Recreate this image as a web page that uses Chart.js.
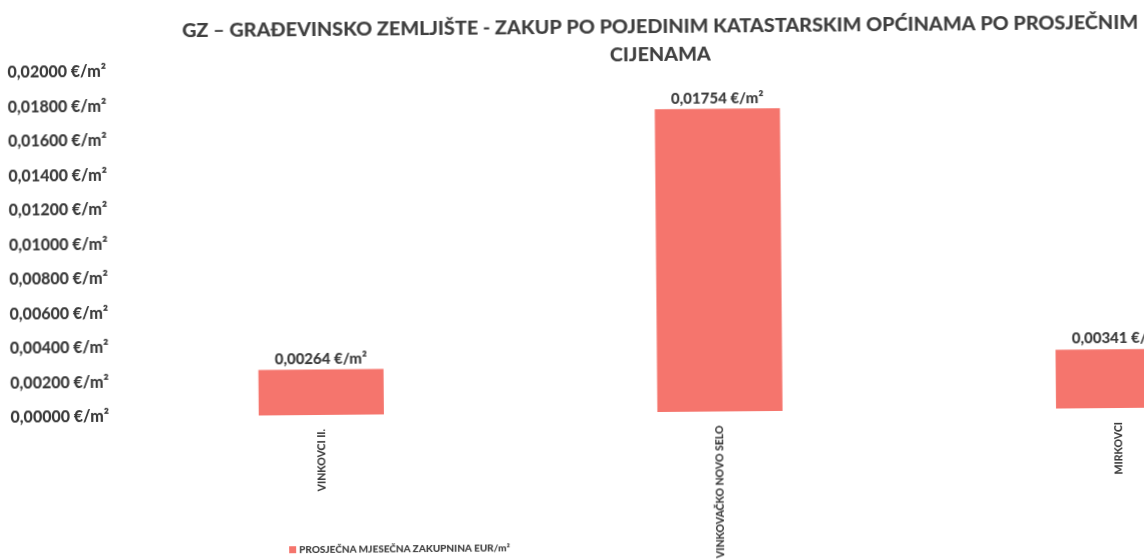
<!DOCTYPE html>
<html>
<head>
<meta charset="utf-8">
<script src="https://cdn.jsdelivr.net/npm/chart.js@4/dist/chart.umd.min.js"></script>
<style>
  html, body { margin:0; padding:0; background:#fff; overflow:hidden; }
  #wrap { position:relative; width:1320px; height:560px; transform: rotate(-0.5deg); transform-origin: 660px 300px; }
  #legend { position:absolute; left:287px; top:540px; font:900 10px Lato, "Open Sans", sans-serif; color:#3b3b3b; white-space:nowrap; display:flex; align-items:center; }
  #legend span.box { display:inline-block; width:7px; height:7px; margin-right:3px; }
</style>
</head>
<body>
<div id="wrap">
  <canvas id="c" width="1320" height="560"></canvas>
  <div id="legend"></div>
</div>
<script>
const titleLines = ["GZ – GRAĐEVINSKO ZEMLJIŠTE - ZAKUP PO POJEDINIM KATASTARSKIM OPĆINAMA PO PROSJEČNIM", "CIJENAMA"];
const categories = ["VINKOVCI II.", "VINKOVAČKO NOVO SELO", "MIRKOVCI"];
const seriesLabel = "PROSJEČNA MJESEČNA ZAKUPNINA EUR/m²";
const seriesValues = [0.00264, 0.01754, 0.00341];
const yMin = 0, yMax = 0.02, yStep = 0.002;

const barColor = "#F5756D";
const textColor = "#3b3b3b";
const fontFamily = "Lato, 'Open Sans', sans-serif";

function fmt(v) { return v.toFixed(5).replace('.', ',') + " €/m²"; }

document.getElementById('legend').innerHTML =
  '<span class="box" style="background:' + barColor + '"></span>' + seriesLabel;

const valueLabels = {
  id: 'valueLabels',
  afterDatasetsDraw(chart) {
    const ctx = chart.ctx;
    ctx.save();
    ctx.font = "900 15px " + fontFamily;
    ctx.fillStyle = textColor;
    ctx.textAlign = 'center';
    ctx.textBaseline = 'bottom';
    chart.getDatasetMeta(0).data.forEach((bar, i) => {
      ctx.fillText(fmt(chart.data.datasets[0].data[i]), bar.x, bar.y - 3);
    });
    ctx.restore();
  }
};

new Chart(document.getElementById('c'), {
  type: 'bar',
  data: {
    labels: categories,
    datasets: [{
      label: seriesLabel,
      data: seriesValues,
      backgroundColor: barColor,
      borderWidth: 0,
      categoryPercentage: 1,
      barPercentage: 0.314
    }]
  },
  options: {
    responsive: false,
    animation: false,
    layout: { padding: { left: 8, right: 3, top: 0, bottom: 0 } },
    plugins: {
      legend: { display: false },
      tooltip: { enabled: false },
      title: {
        display: true,
        text: titleLines,
        color: "#404040",
        font: { family: fontFamily, size: 19.8, weight: '900', lineHeight: 1.41 },
        padding: { top: 13, bottom: -2 }
      }
    },
    scales: {
      x: {
        grid: { display: false },
        border: { display: false },
        ticks: {
          color: textColor,
          font: { family: fontFamily, size: 10.5, weight: '900' },
          maxRotation: 90, minRotation: 90,
          padding: 6
        },
        afterFit(scale) { scale.height = 148; }
      },
      y: {
        min: yMin, max: yMax,
        grid: { display: false },
        border: { display: false },
        ticks: {
          stepSize: yStep,
          color: textColor,
          font: { family: fontFamily, size: 16, weight: '900' },
          padding: 5,
          callback: (v) => fmt(v)
        },
        afterFit(scale) { scale.width = 113; }
      }
    }
  },
  plugins: [valueLabels]
});
</script>
</body>
</html>
